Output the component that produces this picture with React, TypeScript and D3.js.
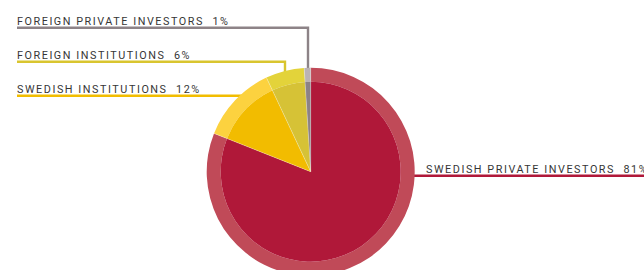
import React, { useEffect, useRef } from 'react';
import * as d3 from 'd3';

const categories = ['SWEDISH PRIVATE INVESTORS', 'SWEDISH INSTITUTIONS', 'FOREIGN INSTITUTIONS', 'FOREIGN PRIVATE INVESTORS'];
const shares = [81, 12, 6, 1];
const innerColors = ['#b01839', '#f2bc00', '#d6c236', '#8c8286'];
const ringColors = ['#c04a58', '#fcd23f', '#e3d33a', '#bbb3b3'];
const lineColors = ['#b01839', '#f2bd00', '#d9c52f', '#8d8387'];

const W = 644;
const H = 270;

const App: React.FC = () => {
  const svgRef = useRef<SVGSVGElement>(null);

  useEffect(() => {
    if (!svgRef.current) return;
    const svg = d3.select(svgRef.current);
    svg.selectAll('*').remove();

    const cx = 310.7;
    const cy = 171.7;
    const rInner = 90;
    const rOuter = 104;

    const data = categories.map((c, i) => ({ name: c, value: shares[i], i }));
    const pie = d3.pie<any>().value(d => d.value).sort(null);
    const arcs = pie(data);

    // leader lines, drawn behind the pie
    const lines = svg.append('g').attr('fill', 'none').attr('stroke-width', 2.4);
    const labelFont = 'Roboto, "DejaVu Sans", sans-serif';

    const addLabel = (x: number, y: number, i: number) => {
      svg.append('text')
        .attr('x', x)
        .attr('y', y)
        .attr('font-family', labelFont)
        .attr('font-size', 10.8)
        .attr('letter-spacing', 1.55)
        .attr('fill', '#363636')
        .attr('xml:space', 'preserve')
        .text(`${categories[i]}  ${shares[i]}%`);
    };

    // left labels, stacked from the top
    const leftRows = [
      { i: 3, y: 27.7, x2: 308 },
      { i: 2, y: 61.7, x2: 285 },
      { i: 1, y: 95.7, x2: 245 },
    ];
    leftRows.forEach(r => {
      let d = `M17,${r.y}H${r.x2}`;
      if (r.i !== 1) {
        // drop down to the ring
        const yEnd = cy - Math.sqrt(Math.max(0, rOuter * rOuter - (r.x2 - cx) ** 2)) + 4;
        d += `V${yEnd}`;
      }
      lines.append('path').attr('d', d).attr('stroke', lineColors[r.i]);
      addLabel(17, r.y - 3, r.i);
    });

    // right label
    lines.append('path').attr('d', `M${cx + rOuter - 2},175.7H${W}`).attr('stroke', lineColors[0]);
    addLabel(426, 172.7, 0);

    const g = svg.append('g').attr('transform', `translate(${cx},${cy})`);
    const ring = d3.arc<any>().innerRadius(rInner).outerRadius(rOuter);
    const inner = d3.arc<any>().innerRadius(0).outerRadius(rInner);

    g.selectAll('path.ring').data(arcs).enter().append('path')
      .attr('class', 'ring')
      .attr('d', ring)
      .attr('fill', d => ringColors[d.data.i]);
    g.selectAll('path.inner').data(arcs).enter().append('path')
      .attr('class', 'inner')
      .attr('d', inner)
      .attr('fill', d => innerColors[d.data.i]);
    g.selectAll('path.sep').data(arcs).enter().append('path')
      .attr('class', 'sep')
      .attr('d', d => `M0,0L${rOuter * Math.sin(d.startAngle)},${-rOuter * Math.cos(d.startAngle)}`)
      .attr('stroke', '#ffffff')
      .attr('stroke-opacity', 0.35)
      .attr('stroke-width', 0.8);
  }, []);

  return (
    <div style={{ position: 'fixed', left: 0, top: 0, width: W, height: H, background: '#fff' }}>
      <svg ref={svgRef} width={W} height={H} style={{ display: 'block' }} />
    </div>
  );
};

export default App;
